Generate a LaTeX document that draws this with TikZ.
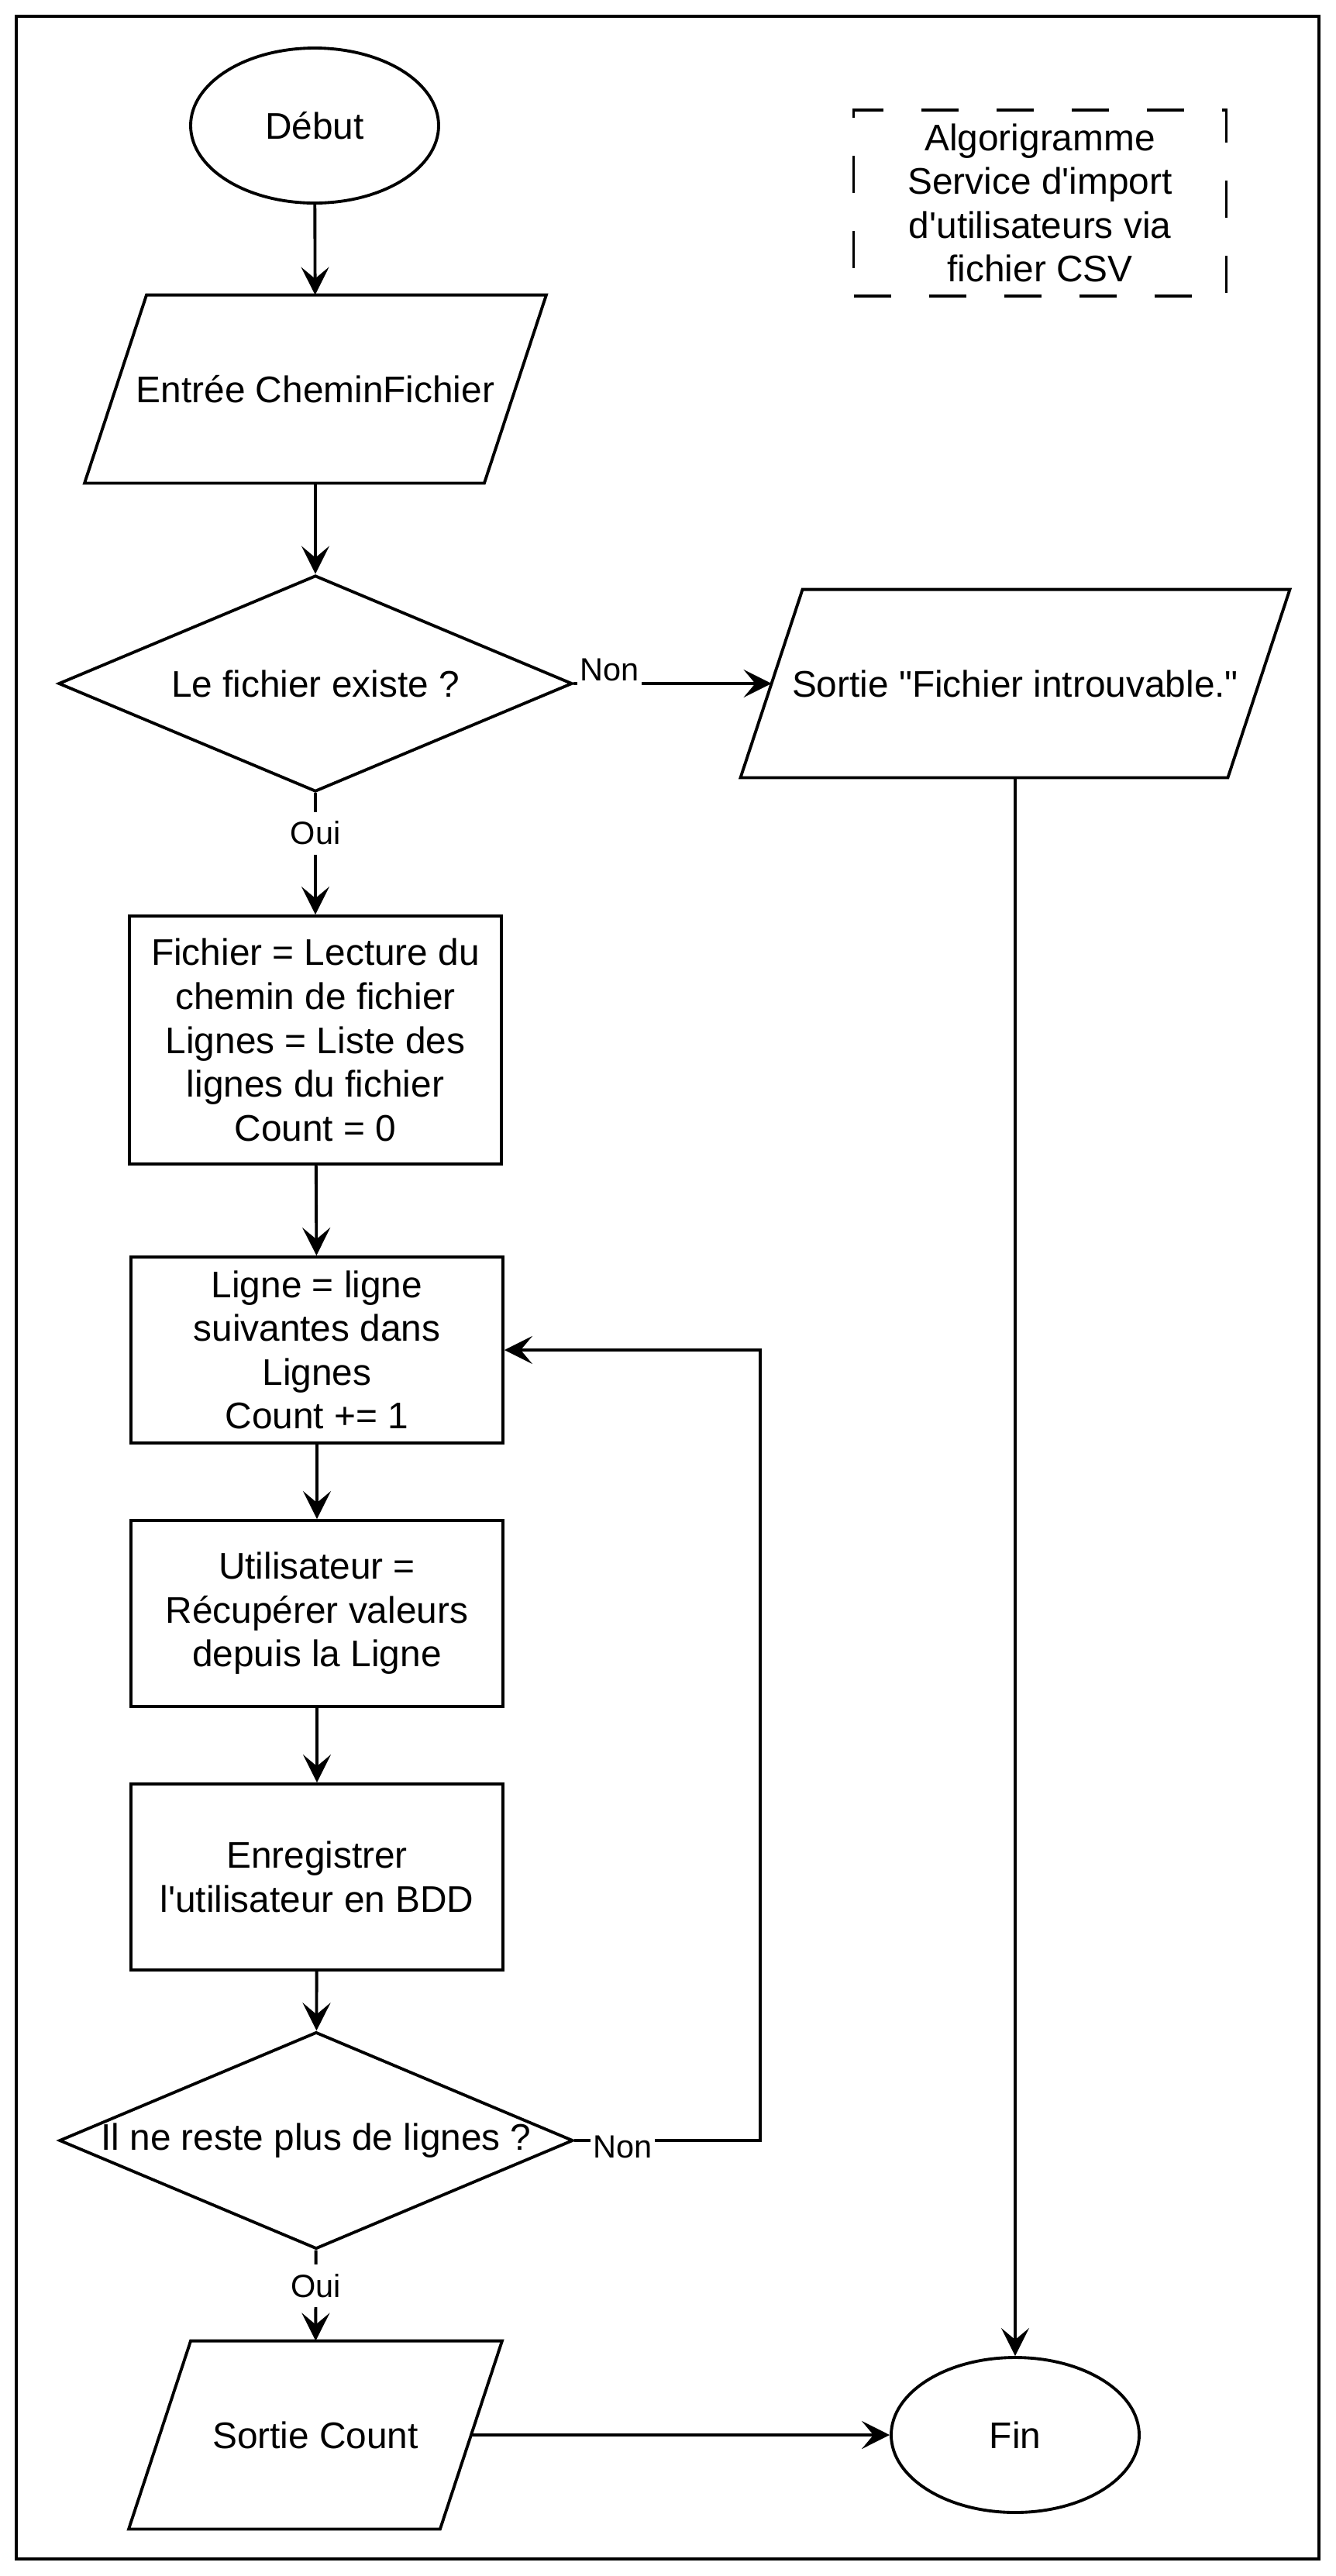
\documentclass[tikz,border=0pt]{standalone}
\usepackage{fontspec}
\setmainfont{Liberation Sans}[Ligatures=TeXOff]
\usetikzlibrary{arrows.meta,shapes.geometric,positioning}

\begin{document}
\begin{tikzpicture}[>={Stealth[length=3.6mm,width=3.6mm,inset=1.5mm]},line width=1.1pt,
	txt/.style={font=\fontsize{13.6}{16.1}\selectfont,align=center},
	terminal/.style={ellipse,draw,txt,inner sep=0pt,minimum width=3.2cm,minimum height=2cm},
	io/.style={rectangle,txt,minimum height=2.39cm},
	boite/.style={rectangle,draw,txt,minimum width=4.8cm},
	decision/.style={diamond,draw,txt,inner sep=0pt,shape aspect=2.36,
		minimum width=6.63cm,minimum height=2.79cm},
	lbl/.style={fill=white,font=\fontsize{11.8}{14}\selectfont,inner xsep=1pt,inner ysep=3.5pt}
	]

	\useasboundingbox (0,0) rectangle (17.24,-33.24);
	\draw (0.21,-0.21) rectangle (17.02,-33.02);

	\node[terminal] (debut) at (4.06,-1.62) {Début};
	\node[io,minimum width=5.12cm] (entree) at (4.07,-5.02) {Entrée CheminFichier};
	\node[decision] (test1) at (4.07,-8.82) {Le fichier existe ?};
	\node[io,minimum width=6.25cm] (sortie1) at (13.10,-8.82) {Sortie "Fichier introuvable."};

	\node[boite,minimum height=3.2cm] (init) at (4.07,-13.42)
		{Fichier = Lecture du\\chemin de fichier\\Lignes = Liste des\\lignes du fichier\\Count = 0};
	\node[boite,minimum height=2.4cm] (lecture) at (4.09,-17.42)
		{Ligne = ligne\\suivantes dans\\Lignes\\Count += 1};
	\node[boite,minimum height=2.4cm] (utilisateur) at (4.09,-20.82)
		{Utilisateur =\\Récupérer valeurs\\depuis la Ligne};
	\node[boite,minimum height=2.4cm] (enregistrer) at (4.09,-24.22)
		{Enregistrer\\l'utilisateur en BDD};

	\node[decision] (test2) at (4.08,-27.62) {Il ne reste plus de lignes ?};
	\node[io,minimum width=3.98cm] (sortie2) at (4.07,-31.42) {Sortie Count};
	\node[terminal] (fin) at (13.10,-31.42) {Fin};

	\node[draw,dash pattern=on 4.8mm off 4.9mm,txt,minimum width=4.81cm,minimum height=2.4cm] (titre)
		at (13.42,-2.62) {Algorigramme\\Service d'import\\d'utilisateurs via\\fichier CSV};

	\foreach \n in {entree,sortie1,sortie2}
		\draw ([xshift=4mm]\n.north west) -- ([xshift=4mm]\n.north east)
			-- ([xshift=-4mm]\n.south east) -- ([xshift=-4mm]\n.south west) -- cycle;

	\coordinate (boucle) at (9.81,-27.62);

	\draw[->] (debut) -- (entree);
	\draw[->] (entree) -- (test1);
	\draw[->] (test1) -- node[lbl,pos=0.18,yshift=1.8mm]{Non} (sortie1);
	\draw[->] (test1) -- node[lbl,pos=0.33]{Oui} (init);
	\draw[->] (init) -- (lecture);
	\draw[->] (lecture) -- (utilisateur);
	\draw[->] (utilisateur) -- (enregistrer);
	\draw[->] (enregistrer) -- (test2);
	\draw[->] (test2) -- node[lbl,pos=0.26,yshift=-0.8mm]{Non} (boucle) |- (lecture);
	\draw[->] (test2) -- node[lbl,pos=0.39]{Oui} (sortie2);
	\draw[->] (sortie2) -- (fin);
	\draw[->] (sortie1) -- (fin);

\end{tikzpicture}
\end{document}
